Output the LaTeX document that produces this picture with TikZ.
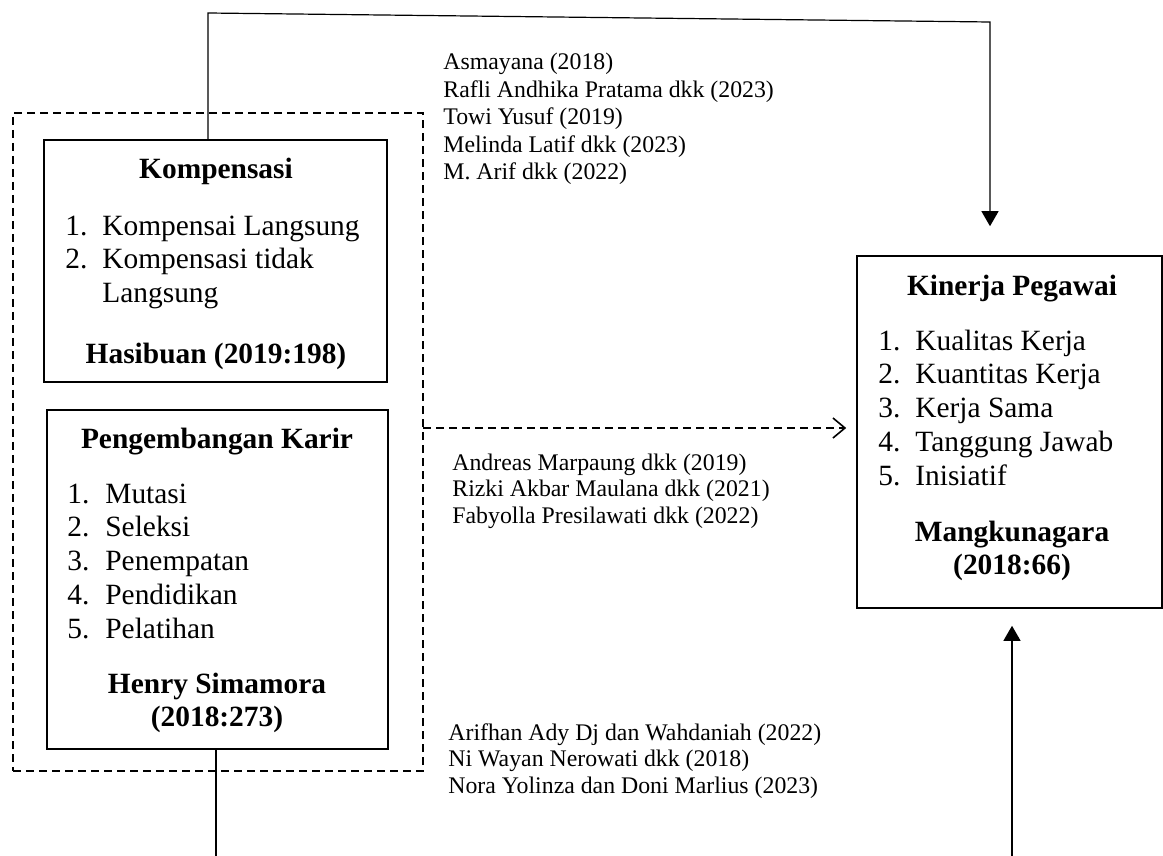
\documentclass[tikz,border=0pt]{standalone}
\usepackage{fontspec}
\setmainfont{Liberation Serif}
\usetikzlibrary{arrows.meta}
\newcommand{\itm}[2]{\makebox[18.5pt][l]{#1}#2}
\begin{document}
\begin{tikzpicture}[x=0.5pt,y=-0.5pt,
  box/.style={draw,line width=0.8pt,rectangle,inner sep=0pt},
  grpbox/.style={draw,line width=0.8pt,dash pattern=on 4pt off 2.5pt,rectangle,inner sep=0pt},
  boxtxt/.style={font=\fontsize{14.7}{16.9}\selectfont,inner sep=0pt,anchor=base west},
  boxhead/.style={font=\fontsize{14.7}{16.9}\selectfont\bfseries,inner sep=0pt,anchor=base},
  citeA/.style={font=\fontsize{11.9}{13.75}\selectfont,inner sep=0pt,anchor=base west},
  citeB/.style={font=\fontsize{11.9}{13.25}\selectfont,inner sep=0pt,anchor=base west},
  conn/.style={line width=0.6pt},
  arr/.style={-{Triangle[width=8.5pt,length=7.5pt]}},
  darr/.style={line width=0.8pt,dash pattern=on 4pt off 2.5pt,-{Straight Barb[width=10pt,length=6pt]}}
]
\useasboundingbox (0,0) rectangle (1163,856);

% dashed group
\node[grpbox,minimum width=205pt,minimum height=329pt] (grp) at (218,442) {};

% boxes
\node[box,minimum width=171.5pt,minimum height=121pt] (komp) at (215.5,261) {};
\node[box,minimum width=170.5pt,minimum height=169.5pt] (peng) at (217.5,579.5) {};
\node[box,minimum width=152.5pt,minimum height=176pt] (kin) at (1009.5,432) {};

% Kompensasi text
\node[boxhead] (kompT) at (216,178) {Kompensasi};
\node[boxtxt] (kompL) at (65,235) {\begin{tabular}[t]{@{}l@{}}
\itm{1.}{Kompensai Langsung}\\
\itm{2.}{Kompensasi tidak}\\
\itm{}{Langsung}
\end{tabular}};
\node[boxhead] (kompS) at (216,363) {Hasibuan (2019:198)};

% Pengembangan text
\node[boxhead] (pengT) at (217,448) {Pengembangan Karir};
\node[boxtxt] (pengL) at (67,503) {\fontsize{14.7}{16.9}\selectfont\begin{tabular}[t]{@{}l@{}}
\makebox[19pt][l]{1.}Mutasi\\
\makebox[19pt][l]{2.}Seleksi\\
\makebox[19pt][l]{3.}Penempatan\\
\makebox[19pt][l]{4.}Pendidikan\\
\makebox[19pt][l]{5.}Pelatihan
\end{tabular}};
\node[boxhead] (pengS) at (217,693) {\begin{tabular}[t]{@{}c@{}}Henry Simamora\\(2018:273)\end{tabular}};

% Kinerja text
\node[boxhead] (kinT) at (1012,295) {Kinerja Pegawai};
\node[boxtxt] (kinL) at (878,350) {\begin{tabular}[t]{@{}l@{}}
\itm{1.}{Kualitas Kerja}\\
\itm{2.}{Kuantitas Kerja}\\
\itm{3.}{Kerja Sama}\\
\itm{4.}{Tanggung Jawab}\\
\itm{5.}{Inisiatif}
\end{tabular}};
\node[boxhead] (kinS) at (1012,541) {\begin{tabular}[t]{@{}c@{}}Mangkunagara\\(2018:66)\end{tabular}};

% citations
\node[citeA] (c1) at (443,70) {\begin{tabular}[t]{@{}l@{}}
Asmayana (2018)\\
Rafli Andhika Pratama dkk (2023)\\
Towi Yusuf (2019)\\
Melinda Latif dkk (2023)\\
M. Arif dkk (2022)
\end{tabular}};
\node[citeB] (c2) at (452,470) {\begin{tabular}[t]{@{}l@{}}
Andreas Marpaung dkk (2019)\\
Rizki Akbar Maulana dkk (2021)\\
Fabyolla Presilawati dkk (2022)
\end{tabular}};
\node[citeB] (c3) at (448,740) {\begin{tabular}[t]{@{}l@{}}
Arifhan Ady Dj dan Wahdaniah (2022)\\
Ni Wayan Nerowati dkk (2018)\\
Nora Yolinza dan Doni Marlius (2023)
\end{tabular}};

% connectors
\coordinate (t1) at (208,13);
\coordinate (t2) at (990,22);
\draw[conn,arr,shorten >=14.5pt] (komp.north -| t1) -- (t1) -- (t2) -- (kin.north -| t2);

\coordinate (d1) at (423,428);
\draw[darr,shorten >=5pt] (d1) -- (kin.west |- d1);

\coordinate (b1) at (216,856);
\draw[conn] (peng.south -| b1) -- (b1);

\coordinate (b2) at (1012,856);
\draw[conn,arr,shorten >=8.5pt] (b2) -- (kin.south -| b2);
\end{tikzpicture}
\end{document}
